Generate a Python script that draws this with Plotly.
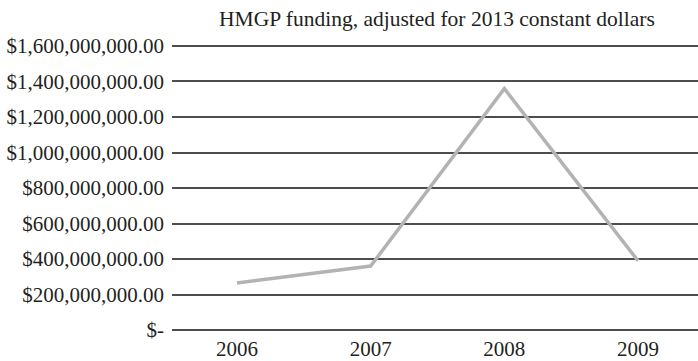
import plotly.graph_objects as go

# HMGP funding in 2013 constant dollars
years = ["2006", "2007", "2008", "2009"]
funding = [265_000_000, 360_000_000, 1_360_000_000, 390_000_000]

y_ticks = [0, 200_000_000, 400_000_000, 600_000_000, 800_000_000,
           1_000_000_000, 1_200_000_000, 1_400_000_000, 1_600_000_000]
y_tick_text = ["$-"] + ["${:,.2f}".format(v) for v in y_ticks[1:]]

font_family = "Liberation Serif, DejaVu Serif, serif"
text_color = "#231f20"

fig = go.Figure()
fig.add_trace(go.Scatter(
    x=list(range(len(years))),
    y=funding,
    mode="lines",
    line=dict(color="#b3b3b3", width=3.5),
    hoverinfo="skip",
))

fig.update_layout(
    width=698,
    height=361,
    margin=dict(l=172, r=0, t=42, b=31),
    paper_bgcolor="white",
    plot_bgcolor="white",
    showlegend=False,
    font=dict(family=font_family, size=21, color=text_color),
    title=dict(
        text="HMGP funding, adjusted for 2013 constant dollars",
        x=0.626, xanchor="center",
        y=0.95, yanchor="middle",
        font=dict(family=font_family, size=21.5, color=text_color),
    ),
    xaxis=dict(
        range=[-0.486, 3.449],
        tickmode="array",
        tickvals=list(range(len(years))),
        ticktext=years,
        showgrid=False,
        zeroline=False,
        showline=False,
        ticks="",
        ticklabelstandoff=4,
        automargin=False,
    ),
    yaxis=dict(
        range=[0, 1_622_500_000],
        tickmode="array",
        tickvals=y_ticks,
        ticktext=y_tick_text,
        showgrid=True,
        gridcolor="#4d4d4d",
        gridwidth=1.5,
        zeroline=True,
        zerolinecolor="#4d4d4d",
        zerolinewidth=1.5,
        showline=False,
        ticks="",
        ticklabelstandoff=7,
        automargin=False,
    ),
)

fig.write_html("out.html")
